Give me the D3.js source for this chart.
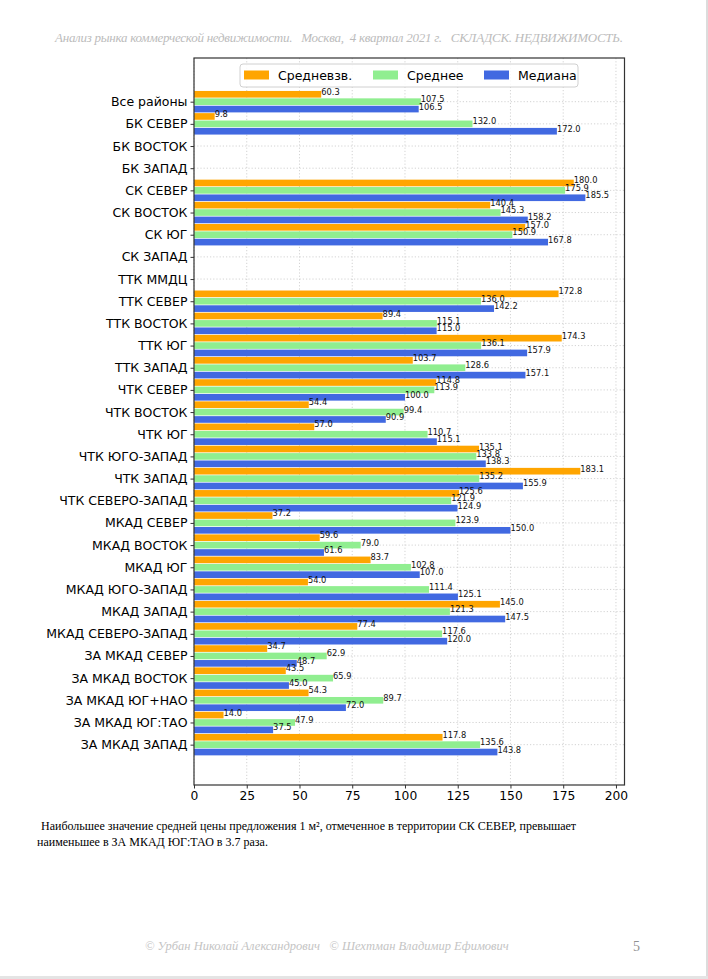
<!DOCTYPE html>
<html>
<head>
<meta charset="utf-8">
<script src="https://cdn.jsdelivr.net/npm/d3@7"></script>
<style>
  body { margin: 0; background: #fff; }
  svg { display: block; }
  text { white-space: pre; }
</style>
</head>
<body>
<div id="chart"></div>
<script>
const categories = ['Все районы', 'БК СЕВЕР', 'БК ВОСТОК', 'БК ЗАПАД', 'СК СЕВЕР', 'СК ВОСТОК',
  'СК ЮГ', 'СК ЗАПАД', 'ТТК ММДЦ', 'ТТК СЕВЕР', 'ТТК ВОСТОК', 'ТТК ЮГ', 'ТТК ЗАПАД',
  'ЧТК СЕВЕР', 'ЧТК ВОСТОК', 'ЧТК ЮГ', 'ЧТК ЮГО-ЗАПАД', 'ЧТК ЗАПАД', 'ЧТК СЕВЕРО-ЗАПАД',
  'МКАД СЕВЕР', 'МКАД ВОСТОК', 'МКАД ЮГ', 'МКАД ЮГО-ЗАПАД', 'МКАД ЗАПАД', 'МКАД СЕВЕРО-ЗАПАД',
  'ЗА МКАД СЕВЕР', 'ЗА МКАД ВОСТОК', 'ЗА МКАД ЮГ+НАО', 'ЗА МКАД ЮГ:ТАО', 'ЗА МКАД ЗАПАД'];

// средневзвешенная цена
const weighted = [60.3, 9.8, null, null, 180.0, 140.4, 157.0, null, null, 172.8, 89.4, 174.3, 103.7,
  114.8, 54.4, 57.0, 135.1, 183.1, 125.6, 37.2, 59.6, 83.7, 54.0, 145.0, 77.4, 34.7, 43.5, 54.3, 14.0, 117.8];
// средняя
const mean = [107.5, 132.0, null, null, 175.9, 145.3, 150.9, null, null, 136.0, 115.1, 136.1, 128.6,
  113.9, 99.4, 110.7, 133.8, 135.2, 121.9, 123.9, 79.0, 102.8, 111.4, 121.3, 117.6, 62.9, 65.9, 89.7, 47.9, 135.6];
// медиана
const median = [106.5, 172.0, null, null, 185.5, 158.2, 167.8, null, null, 142.2, 115.0, 157.9, 157.1,
  100.0, 90.9, 115.1, 138.3, 155.9, 124.9, 150.0, 61.6, 107.0, 125.1, 147.5, 120.0, 48.7, 45.0, 72.0, 37.5, 143.8];

const seriesNames = ['Средневзв.', 'Среднее', 'Медиана'];
const seriesColors = ['#FFA500', '#90EE90', '#4169E1'];
const xTicks = [0, 25, 50, 75, 100, 125, 150, 175, 200];

const width = 708;
const height = 979;

const svg = d3.select('#chart').append('svg')
  .attr('width', width)
  .attr('height', height);

// page edges
svg.append('rect').attr('x', 0).attr('y', 976).attr('width', width).attr('height', 3).attr('fill', '#e4e4e4');
svg.append('rect').attr('x', 706).attr('y', 0).attr('width', 2).attr('height', 976).attr('fill', '#dcdcdc');

// header
svg.append('text')
  .attr('x', 55).attr('y', 42)
  .attr('textLength', 568)
  .attr('font-family', 'Liberation Serif')
  .attr('font-style', 'italic')
  .attr('font-size', 13)
  .attr('fill', '#bcbcbc')
  .text('Анализ рынка коммерческой недвижимости.   Москва,  4 квартал 2021 г.   СКЛАДСК. НЕДВИЖИМОСТЬ.');

const plotL = 194, plotR = 624.5, plotT = 58, plotB = 785;

const xMax = d3.max(median.concat(mean, weighted)) * 1.1;
const x = d3.scaleLinear().domain([0, xMax]).range([plotL, plotR]);

// category positions (index units), top category first
const yIdx = d3.scaleLinear().domain([-1.97, 30.82]).range([plotT, plotB]);
const y = d3.scalePoint().domain(categories).range([yIdx(0), yIdx(categories.length - 1)]);
const unit = yIdx(1) - yIdx(0);

// grid
const grid = svg.append('g').attr('stroke', '#c8c8c8').attr('stroke-width', 0.8).attr('stroke-dasharray', '1.2,2');
grid.selectAll('.gx').data(xTicks).enter().append('line')
  .attr('x1', d => x(d)).attr('x2', d => x(d)).attr('y1', plotT).attr('y2', plotB);
grid.selectAll('.gy').data(categories).enter().append('line')
  .attr('x1', plotL).attr('x2', plotR).attr('y1', d => y(d)).attr('y2', d => y(d));

// bars
const series = [weighted, mean, median];
const offsets = [-1 / 3, 0, 1 / 3];
const barH = 0.3 * unit;

series.forEach((vals, s) => {
  const rows = categories.map((c, i) => ({ c: c, v: vals[i] })).filter(d => d.v != null);
  svg.append('g').selectAll('rect').data(rows).enter().append('rect')
    .attr('x', x(0))
    .attr('y', d => y(d.c) + offsets[s] * unit - barH / 2)
    .attr('width', d => x(d.v) - x(0))
    .attr('height', barH)
    .attr('fill', seriesColors[s]);
});

// value labels
series.forEach((vals, s) => {
  const rows = categories.map((c, i) => ({ c: c, v: vals[i] })).filter(d => d.v != null);
  svg.append('g').selectAll('text').data(rows).enter().append('text')
    .attr('x', d => x(d.v))
    .attr('y', d => y(d.c) + offsets[s] * unit + 0.5)
    .attr('font-family', 'DejaVu Sans')
    .attr('font-size', 8.3)
    .attr('fill', '#111')
    .text(d => d.v.toFixed(1));
});

// axes
const yAxis = svg.append('g')
  .attr('transform', `translate(${plotL},0)`)
  .call(d3.axisLeft(y).tickSize(3.5).tickPadding(3));
yAxis.select('.domain').remove();
yAxis.selectAll('text').attr('font-family', 'DejaVu Sans').attr('font-size', 12.5).attr('fill', '#000');
yAxis.selectAll('line').attr('stroke', '#333');

const xAxis = svg.append('g')
  .attr('transform', `translate(0,${plotB})`)
  .call(d3.axisBottom(x).tickValues(xTicks).tickFormat(d3.format('d')).tickSize(3.5).tickPadding(3));
xAxis.select('.domain').remove();
xAxis.selectAll('text').attr('font-family', 'DejaVu Sans').attr('font-size', 12.3).attr('fill', '#000');
xAxis.selectAll('line').attr('stroke', '#333');

// frame
svg.append('rect')
  .attr('x', plotL).attr('y', plotT)
  .attr('width', plotR - plotL).attr('height', plotB - plotT)
  .attr('fill', 'none').attr('stroke', '#333').attr('stroke-width', 1.2);

// legend
const legend = svg.append('g');
legend.append('rect')
  .attr('x', 240).attr('y', 64).attr('width', 338).attr('height', 23).attr('rx', 3)
  .attr('fill', 'white').attr('fill-opacity', 0.85).attr('stroke', '#d0d0d0');
const legendX = [244, 373, 484];
const items = legend.selectAll('g.item').data(seriesNames).enter().append('g')
  .attr('transform', (d, i) => `translate(${legendX[i]},0)`);
items.append('rect').attr('x', 0).attr('y', 70.5).attr('width', 25).attr('height', 9)
  .attr('fill', (d, i) => seriesColors[i]);
items.append('text').attr('x', 34).attr('y', 80)
  .attr('font-family', 'DejaVu Sans').attr('font-size', 12.5).attr('fill', '#000')
  .text(d => d);

// footnote
const note = svg.append('g').attr('font-family', 'Liberation Serif').attr('font-size', 12).attr('fill', '#000');
note.append('text').attr('x', 38).attr('y', 830)
  .text(' Наибольшее значение средней цены предложения 1 м², отмеченное в территории СК СЕВЕР, превышает');
note.append('text').attr('x', 37).attr('y', 846)
  .text('наименьшее в ЗА МКАД ЮГ:ТАО в 3.7 раза.');

// footer
svg.append('text')
  .attr('x', 145).attr('y', 950)
  .attr('font-family', 'Liberation Serif').attr('font-style', 'italic').attr('font-size', 12.5)
  .attr('fill', '#c4c4c4')
  .text('© Урбан Николай Александрович   © Шехтман Владимир Ефимович');
svg.append('text')
  .attr('x', 633).attr('y', 951)
  .attr('font-family', 'Liberation Serif').attr('font-size', 14)
  .attr('fill', '#909090')
  .text('5');
</script>
</body>
</html>
